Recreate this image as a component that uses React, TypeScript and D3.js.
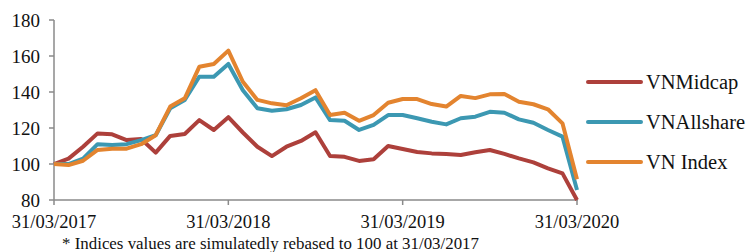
import * as d3 from 'd3';

// monthly index, 0 = 31/03/2017 ... 36 = 31/03/2020
const months = d3.range(0, 37);

const vnMidcap = [
  100, 103, 109.6, 117, 116.5, 113.3, 113.9, 106.3, 115.6, 116.7, 124.4, 118.9, 126,
  117.5, 109.6, 104.4, 109.6, 112.8, 117.6, 104.4, 104, 101.7, 102.6, 110, 108.3,
  106.7, 105.9, 105.6, 105, 106.5, 107.8, 105.6, 103.1, 100.9, 97.6, 94.8, 80,
];
const vnAllshare = [
  100, 100, 103, 111, 110.5, 111, 113.3, 116, 131, 135.6, 148.5, 148.5, 155.6,
  141, 131, 129.6, 130.4, 132.8, 137, 124.4, 124, 118.9, 121.7, 127.2, 127.2,
  125.4, 123.5, 122, 125.4, 126.3, 129, 128.5, 124.8, 122.9, 118.9, 115.2, 85.6,
];
const vnIndex = [
  100, 99.4, 101.8, 107.8, 108.5, 108.5, 111, 116, 131.9, 136.5, 154, 155.6, 163,
  145.7, 135.6, 133.7, 132.6, 136.5, 141, 127.2, 128.5, 124, 127.2, 134, 136.1,
  136.1, 133.3, 131.9, 137.8, 136.6, 138.7, 138.9, 134.6, 133.2, 130.4, 122.6, 91.5,
];

const seriesNames = ['VNMidcap', 'VNAllshare', 'VN Index'];
const seriesColors = ['#ad403b', '#3c98b2', '#e3842f'];
const seriesData = [vnMidcap, vnAllshare, vnIndex];

const yTicks = [80, 100, 120, 140, 160, 180];
const xTickValues = [0, 12, 24, 36];
const xTickLabels = ['31/03/2017', '31/03/2018', '31/03/2019', '31/03/2020'];
const footnote = '* Indices values are simulatedly rebased to 100 at 31/03/2017';

const serif = "'Liberation Serif'";

export default function App() {
  const width = 749;
  const height = 252;
  const x = d3.scaleLinear().domain([0, 36]).range([54, 577]);
  const y = d3.scaleLinear().domain([80, 180]).range([200, 20]);
  const line = d3
    .line<number>()
    .x((_, i) => x(months[i]))
    .y((d) => y(d));

  const axisColor = '#8a8a8a';
  const txt = { fontFamily: serif, fill: '#111' };

  return (
    <svg
      width={width}
      height={height}
      style={{ position: 'absolute', left: 0, top: 0, background: '#fff' }}
    >
      {/* y axis */}
      <line x1={x(0)} x2={x(0)} y1={y(180)} y2={y(80)} stroke={axisColor} strokeWidth={1.5} />
      {yTicks.map((t) => (
        <g key={t}>
          <line x1={x(0) - 5} x2={x(0)} y1={y(t)} y2={y(t)} stroke={axisColor} strokeWidth={1.5} />
          <text x={40} y={y(t)} dy="0.35em" textAnchor="end" style={{ ...txt, fontSize: 19 }}>
            {t}
          </text>
        </g>
      ))}

      {/* x axis */}
      <line x1={x(0)} x2={x(36) + 1} y1={y(80)} y2={y(80)} stroke={axisColor} strokeWidth={1.5} />
      {xTickValues.map((v, i) => (
        <g key={v}>
          <line x1={x(v)} x2={x(v)} y1={y(80)} y2={y(80) + 5} stroke={axisColor} strokeWidth={1.5} />
          <text x={x(v)} y={228} textAnchor="middle" style={{ ...txt, fontSize: 18.5 }}>
            {xTickLabels[i]}
          </text>
        </g>
      ))}

      {/* series */}
      {seriesData.map((s, i) => (
        <path
          key={seriesNames[i]}
          d={line(s) ?? ''}
          fill="none"
          stroke={seriesColors[i]}
          strokeWidth={4}
          strokeLinejoin="round"
        />
      ))}

      {/* legend */}
      {seriesNames.map((name, i) => (
        <g key={name} transform={`translate(588,${82 + i * 40})`}>
          <line x1={0} x2={53} y1={0} y2={0} stroke={seriesColors[i]} strokeWidth={4} strokeLinecap="round" />
          <text x={58} y={0} dy="0.35em" style={{ ...txt, fontSize: 20.5 }}>
            {name}
          </text>
        </g>
      ))}

      <text x={62} y={249} style={{ ...txt, fontSize: 16.9 }}>
        {footnote}
      </text>
    </svg>
  );
}
